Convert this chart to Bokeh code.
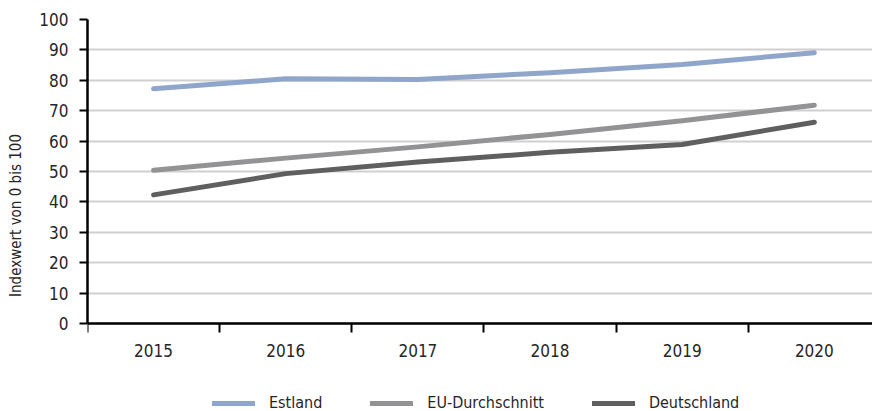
from bokeh.plotting import figure
from bokeh.models import Range1d, FixedTicker, Legend, LegendItem, ColumnDataSource
from bokeh.embed import file_html
from bokeh.resources import INLINE

years = ["2015", "2016", "2017", "2018", "2019", "2020"]
estland = [77.2, 80.5, 80.3, 82.5, 85.2, 89.1]
eu_durchschnitt = [50.4, 54.4, 58.1, 62.2, 66.7, 71.8]
deutschland = [42.3, 49.3, 53.1, 56.3, 58.9, 66.2]

series_names = ["Estland", "EU-Durchschnitt", "Deutschland"]
series_values = [estland, eu_durchschnitt, deutschland]
series_colors = ["#8FA5C9", "#939396", "#5F5F60"]

y_ticks = list(range(0, 101, 10))

FONT = "DejaVu Sans Condensed"
TEXT = "#262626"

xs = list(range(len(years)))

# frame: 100 -> 19px, 0 -> 323px; frame reaches the bottom so the legend fits below the axis
p = figure(width=872, height=411, output_backend="svg", toolbar_location=None,
           x_range=Range1d(-0.5, 5.44), y_range=Range1d(-28.95, 100),
           min_border_left=87, min_border_top=19, min_border_right=0, min_border_bottom=0)
p.outline_line_color = None
p.background_fill_color = "white"

# x axis at value 0: labels at category centres, ticks at category boundaries
p.xaxis.fixed_location = 0
p.xaxis.ticker = FixedTicker(ticks=xs, minor_ticks=[i - 0.5 for i in xs] + [len(xs) - 0.5])
p.xaxis.major_label_overrides = {i: y for i, y in enumerate(years)}
p.xaxis.major_tick_out = 9
p.xaxis.major_tick_in = 0
p.xaxis.major_tick_line_alpha = 0
p.xaxis.minor_tick_out = 9
p.xaxis.minor_tick_in = 0
p.xaxis.minor_tick_line_color = "black"
p.xaxis.minor_tick_line_width = 2
p.xaxis.major_label_standoff = 12

p.yaxis.ticker = FixedTicker(ticks=y_ticks)
p.yaxis.bounds = (0, 100)
p.yaxis.major_tick_out = 8
p.yaxis.major_tick_in = 0
p.yaxis.minor_tick_line_alpha = 0
p.yaxis.major_tick_line_width = 2
p.yaxis.major_label_standoff = 11
p.yaxis.axis_label = "Indexwert von 0 bis 100"
p.yaxis.axis_label_standoff = 11
p.yaxis.axis_label_text_font_style = "normal"

for ax in [p.xaxis[0], p.yaxis[0]]:
    ax.axis_line_color = "black"
    ax.axis_line_width = 2.5
    ax.major_tick_line_color = "black"
    ax.major_label_text_font = FONT
    ax.major_label_text_font_size = "17px"
    ax.major_label_text_color = TEXT
    ax.axis_label_text_font = FONT
    ax.axis_label_text_font_size = "15px"
    ax.axis_label_text_color = TEXT

p.xgrid.grid_line_color = None
p.ygrid.ticker = FixedTicker(ticks=y_ticks)
p.ygrid.grid_line_color = "#D0D0D0"
p.ygrid.grid_line_width = 2

items = []
for name, vals, col in zip(series_names, series_values, series_colors):
    src = ColumnDataSource(dict(x=xs, y=vals))
    r = p.line("x", "y", source=src, line_color=col, line_width=5,
               line_cap="round", line_join="round")
    items.append(LegendItem(label=name, renderers=[r]))

legend = Legend(items=items, orientation="horizontal", location=(125, -1),
                glyph_width=43, glyph_height=16, label_standoff=14, spacing=48,
                label_text_font=FONT, label_text_font_size="16px", label_text_color=TEXT,
                border_line_alpha=0, background_fill_alpha=0, padding=0, margin=0)
p.add_layout(legend, "center")

open("out.html", "w").write(file_html(p, INLINE))
